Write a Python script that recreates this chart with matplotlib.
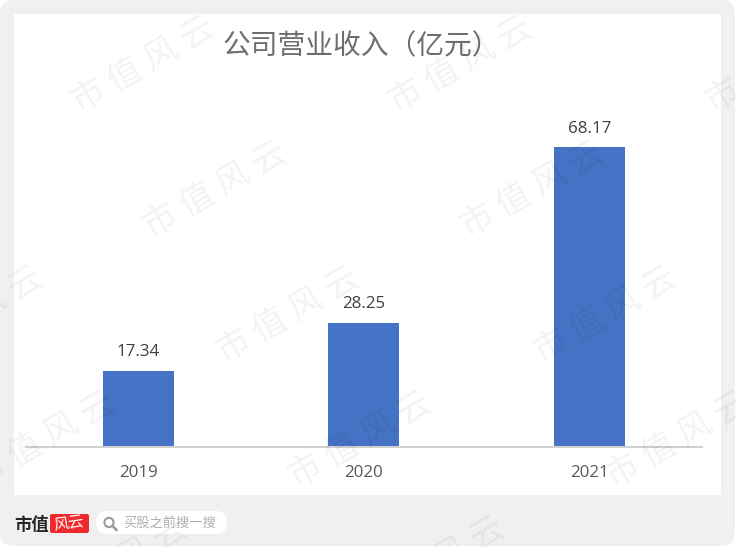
import matplotlib
matplotlib.use('Agg')
import matplotlib.pyplot as plt
from matplotlib.patches import FancyBboxPatch, Rectangle, Circle
from matplotlib.lines import Line2D

plt.rcParams['font.family'] = ['Noto Sans CJK SC', 'DejaVu Sans']

years = ['2019', '2020', '2021']
revenue = [17.34, 28.25, 68.17]
title = '公司营业收入（亿元）'
watermark = '市 值 风 云'
search_hint = '买股之前搜一搜'

W, H = 736, 547


def pixel_axes(fig, zorder):
    # overlay in image pixels, y going down
    a = fig.add_axes([0, 0, 1, 1], zorder=zorder)
    a.set_xlim(0, W)
    a.set_ylim(H, 0)
    a.axis('off')
    a.patch.set_alpha(0)
    return a


fig = plt.figure(figsize=(W / 100, H / 100), dpi=100, facecolor='white')

# grey card and white panel
bg = pixel_axes(fig, 0)
bg.add_patch(FancyBboxPatch((0, 0), W - 1, H - 1, boxstyle='round,pad=0,rounding_size=14',
                            fc='#f0f0f0', ec='none'))
bg.add_patch(Rectangle((14, 14), 707, 481, fc='white', ec='none'))

# chart
ax = fig.add_axes([25.5 / W, (H - 447) / H, 676.5 / W, 352 / H], zorder=1)
ax.patch.set_alpha(0)
ax.bar(range(3), revenue, width=0.315, color='#4472c4')
ax.set_xlim(-0.5, 2.5)
ax.set_ylim(0, 80)
ax.set_yticks([])
ax.set_xticks(range(3))
ax.set_xticklabels(years, fontfamily='Open Sans', fontsize=12.2, color='#595959')
ax.tick_params(axis='x', length=0, pad=13)
for s in ['top', 'left', 'right']:
    ax.spines[s].set_visible(False)
ax.spines['bottom'].set_color('#d0d0d0')
ax.spines['bottom'].set_linewidth(1.5)
for i, v in enumerate(revenue):
    ax.annotate('%.2f' % v, (i, v), xytext=(0, 7.5), textcoords='offset points',
                ha='center', va='bottom', fontfamily='Open Sans', fontsize=12.2, color='#404040')

top = pixel_axes(fig, 2)
top.text(361, 46, title, ha='center', va='center', fontsize=20, color='#6e6e6e')

# footer
top.text(32, 525, '市值', ha='center', va='center', fontsize=12.5, fontweight='bold', color='#262626')
top.add_patch(FancyBboxPatch((50, 514), 39, 19, boxstyle='round,pad=0,rounding_size=2',
                             fc='#ee2a2e', ec='none'))
top.text(69, 523, '风云', ha='center', va='center', fontsize=11, color='white', rotation=8)
top.add_patch(FancyBboxPatch((96, 511), 131, 23, boxstyle='round,pad=0,rounding_size=11.5',
                             fc='white', ec='none'))
top.add_patch(Circle((109, 522.5), 4.6, fc='none', ec='#9a9a9a', lw=1.5))
top.add_line(Line2D([112.5, 116.5], [526, 530], color='#9a9a9a', lw=1.8))
top.text(123, 523, search_hint, ha='left', va='center', fontsize=9.5, color='#b0b0b0')

# watermark repeats over everything, each row shifted right
for row, yc in enumerate([65, 190, 315, 440, 565]):
    x0 = 143 + row * 72.5
    for k in range(-1, 3):
        xc = x0 + k * 317
        if xc < -70 or xc > W + 70:
            continue
        top.text(xc, yc, watermark, ha='center', va='center', rotation=30,
                 rotation_mode='anchor', fontsize=24.5, color='#000000', alpha=0.05)

fig.savefig('out.png', dpi=100, facecolor='white')
